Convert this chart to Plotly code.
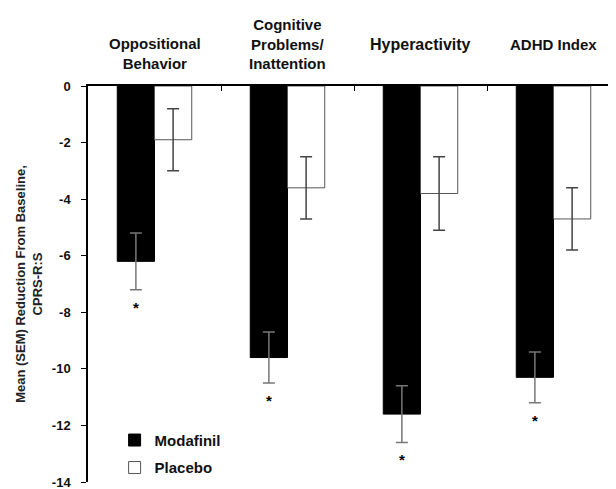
import plotly.graph_objects as go

categories = ["Oppositional Behavior", "Cognitive Problems/ Inattention", "Hyperactivity", "ADHD Index"]
cat_labels = ["Oppositional<br>Behavior", "Cognitive<br>Problems/<br>Inattention", "Hyperactivity", "ADHD Index"]
modafinil = [-6.2, -9.6, -11.6, -10.3]
modafinil_sem = [1.0, 0.9, 1.0, 0.9]
placebo = [-1.9, -3.6, -3.8, -4.7]
placebo_sem = [1.1, 1.1, 1.3, 1.1]
y_ticks = [0, -2, -4, -6, -8, -10, -12, -14]

FONT = "Liberation Sans, Arial, sans-serif"

fig = go.Figure()
fig.add_trace(go.Bar(
    name="Modafinil", x=categories, y=modafinil, legendgroup="m",
    marker=dict(color="black", line=dict(color="black", width=1)),
    error_y=dict(type="data", array=modafinil_sem, visible=True,
                 color="#777", thickness=1.5, width=6),
))
fig.add_trace(go.Bar(
    name="Placebo", x=categories, y=placebo, legendgroup="p",
    marker=dict(color="white", line=dict(color="#555", width=1)),
    error_y=dict(type="data", array=placebo_sem, visible=True,
                 color="#444", thickness=1.5, width=6),
))

annotations = []
# significance asterisks below the modafinil error bars
for i, (v, s) in enumerate(zip(modafinil, modafinil_sem)):
    annotations.append(dict(
        x=i - 0.14, y=v - s, xref="x", yref="y", text="<b>*</b>",
        showarrow=False, yanchor="top", yshift=-7,
        font=dict(family=FONT, size=15, color="black"),
    ))
# category headers above the plot
header_y = [1.083, 1.105, 1.105, 1.105]
header_size = [15, 15, 16, 15]
for i, lab in enumerate(cat_labels):
    annotations.append(dict(
        x=i, y=header_y[i], xref="x", yref="paper", text=lab,
        showarrow=False, yanchor="middle",
        font=dict(family=FONT, size=header_size[i], color="#111", weight="bold"),
    ))

fig.update_layout(
    width=616, height=489,
    margin=dict(l=80, r=4, t=78, b=15),
    paper_bgcolor="white", plot_bgcolor="white",
    barmode="group", bargap=0.44, bargroupgap=0,
    font=dict(family=FONT, size=12, color="black"),
    showlegend=True,
    legend=dict(x=0.05, y=0.147, xanchor="left", yanchor="top",
                bgcolor="rgba(0,0,0,0)", tracegroupgap=5,
                font=dict(family=FONT, size=15, color="#111", weight="bold"),
                itemwidth=30),
    annotations=annotations,
)
fig.update_xaxes(
    side="top", showline=True, linecolor="black", linewidth=1.5,
    showticklabels=False, ticks="inside", ticklen=5, tickcolor="black",
    tickson="boundaries", showgrid=False, zeroline=False,
    range=[-0.5, 3.5],
)
fig.update_yaxes(
    range=[-14, 0], tickvals=y_ticks, ticktext=[str(v) for v in y_ticks],
    showline=True, linecolor="black", linewidth=1.5,
    ticks="outside", ticklen=5, tickcolor="black", ticklabelstandoff=8,
    showgrid=False, zeroline=False,
    tickfont=dict(family=FONT, size=13, color="#111", weight="bold"),
    title=dict(text="Mean (SEM) Reduction From Baseline,<br>CPRS-R:S",
               font=dict(family=FONT, size=13, color="#222", weight="bold"), standoff=6),
)

fig.write_html("out.html")
